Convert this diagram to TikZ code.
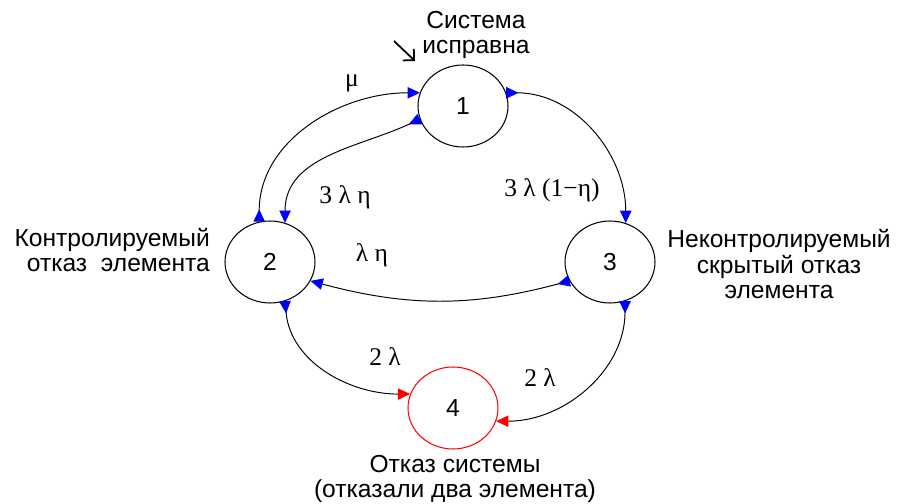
\documentclass[tikz,border=0pt]{standalone}
\usepackage{fontspec}
\setmainfont{Liberation Sans}
\newfontfamily\ratefont{Liberation Serif}
\usetikzlibrary{shapes.geometric,arrows.meta}

\tikzset{
  state/.style={ellipse,draw,line width=0.6pt,minimum width=1.8cm,
    minimum height=1.64cm,inner sep=0pt,font=\fontsize{14}{16}\selectfont},
  rate/.style={font=\ratefont\fontsize{14.5}{16}\selectfont},
  caption/.style={align=center,font=\fontsize{14}{14.5}\selectfont},
  trans/.style={line width=0.55pt,
    {Triangle[reversed,blue,length=7pt,width=6.5pt]}-{Triangle[blue,length=7pt,width=6.5pt]}},
  fail/.style={line width=0.55pt,
    {Triangle[reversed,blue,length=7pt,width=6.5pt]}-{Triangle[red,length=7pt,width=6.5pt]}}
}

\begin{document}
\begin{tikzpicture}[x=0.02cm,y=0.02cm]
  % Page frame: 900 x 504 px, one unit = 1 px.
  \useasboundingbox (0,0) rectangle (900,504);

  % States.
  \node[state] (n1) at (463,398) {1};
  \node[state] (n2) at (270,242) {2};
  \node[state] (n3) at (610,242) {3};
  \node[state,draw=red] (n4) at (453,96) {4};

  % State captions.
  \node[caption] (c1) at (476,469) {Система\\исправна};
  \node[caption,align=right,anchor=east] (c2) at (216,254) {Контролируемый\\отказ\ \ элемента};
  \node[caption] (c3) at (779,240) {Неконтролируемый\\скрытый отказ\\элемента};
  \node[caption] (c4) at (455,25) {Отказ системы\\(отказали два элемента)};

  % Initial state mark.
  \coordinate (i0) at (394,463);
  \coordinate (i1) at (415,443);
  \draw[line width=1pt,-{Straight Barb[length=4.5pt]}] (i0) -- (i1);

  % Transitions.
  \draw[trans] (n2.105) to[out=90,in=180] (n1.163);
  \draw[trans] (n1.197) to[out=205,in=90] (n2.69);
  \draw[trans] (n1.17) to[out=0,in=90] (n3.68);
  \draw[trans] (n3.205) to[out=195,in=-15] (n2.-25);
  \draw[fail] (n2.-69) to[out=-85,in=180] (n4.162);
  \draw[fail] (n3.-69) to[out=-90,in=0] (n4.-17);

  % Rates.
  \node[rate] (r12) at (352,421) {μ};
  \node[rate] (r21) at (345,307) {3 λ η};
  \node[rate] (r13) at (552,314) {3 λ (1−η)};
  \node[rate] (r32) at (372,249) {λ η};
  \node[rate] (r24) at (385,147) {2 λ};
  \node[rate] (r34) at (540,126) {2 λ};
\end{tikzpicture}
\end{document}
